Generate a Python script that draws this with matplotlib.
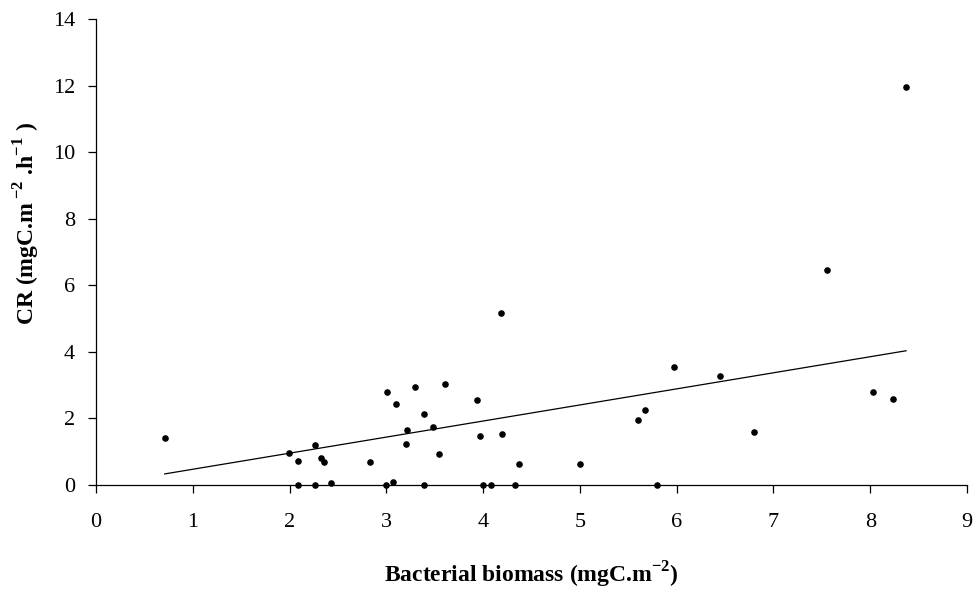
import numpy as np
import matplotlib
matplotlib.use("Agg")
import matplotlib.pyplot as plt

# biomass vs community respiration
biomass = [0.71, 1.99, 2.09, 2.26, 2.32, 2.36, 2.83, 3.01, 3.10, 3.30,
           3.21, 3.20, 3.39, 3.48, 3.54, 3.61, 2.09, 2.26, 2.43, 3.00,
           3.07, 3.39, 4.18, 3.94, 3.97, 4.20, 4.37, 5.00, 5.60, 4.00,
           4.08, 4.33, 5.67, 5.97, 5.80, 6.45, 6.80, 8.03, 8.24, 7.55,
           8.37]
cr = [1.41, 0.97, 0.73, 1.19, 0.80, 0.68, 0.68, 2.78, 2.42, 2.93,
      1.66, 1.24, 2.13, 1.74, 0.92, 3.02, 0.0, 0.0, 0.07, 0.0,
      0.10, 0.0, 5.17, 2.55, 1.46, 1.52, 0.63, 0.63, 1.96, 0.0,
      0.0, 0.0, 2.25, 3.56, 0.0, 3.28, 1.58, 2.78, 2.59, 6.46,
      11.96]

# trend line as drawn in the original
slope = 0.483
intercept = -0.01

plt.rcParams['font.family'] = ['Liberation Serif', 'DejaVu Serif']
plt.rcParams['mathtext.fontset'] = 'custom'
plt.rcParams['mathtext.rm'] = 'Liberation Serif'
plt.rcParams['mathtext.bf'] = 'Liberation Serif:bold'
plt.rcParams['axes.unicode_minus'] = False

fig = plt.figure(figsize=(9.79, 5.92), dpi=100)
ax = fig.add_axes([96/979, 1 - 485/592, (967 - 96)/979, (485 - 19)/592])

ax.scatter(biomass, cr, s=14, color='black', zorder=3, clip_on=False)

xs = np.array([min(biomass), max(biomass)])
ax.plot(xs, slope * xs + intercept, color='black', lw=0.9)

ax.set_xlim(0, 9)
ax.set_ylim(0, 14)
ax.set_xticks(range(0, 10))
ax.set_yticks(range(0, 15, 2))

for s in ['top', 'right']:
    ax.spines[s].set_visible(False)
for s in ['left', 'bottom']:
    ax.spines[s].set_linewidth(0.9)

ax.tick_params(direction='out', length=6, width=0.9, labelsize=16)
ax.tick_params(axis='x', pad=14)
ax.tick_params(axis='y', pad=9)

ax.set_xlabel(r'Bacterial biomass (mgC.m$^{\mathbf{{-}2}}$)', fontsize=17,
              fontweight='bold', labelpad=20)
ax.set_ylabel(r'CR (mgC.m$\,^{\mathbf{{-}2}}$ .h$^{\mathbf{{-}1}}$ )', fontsize=17,
              fontweight='bold')
ax.yaxis.set_label_coords(-0.062, 0.56)

fig.savefig('out.png', dpi=100)
